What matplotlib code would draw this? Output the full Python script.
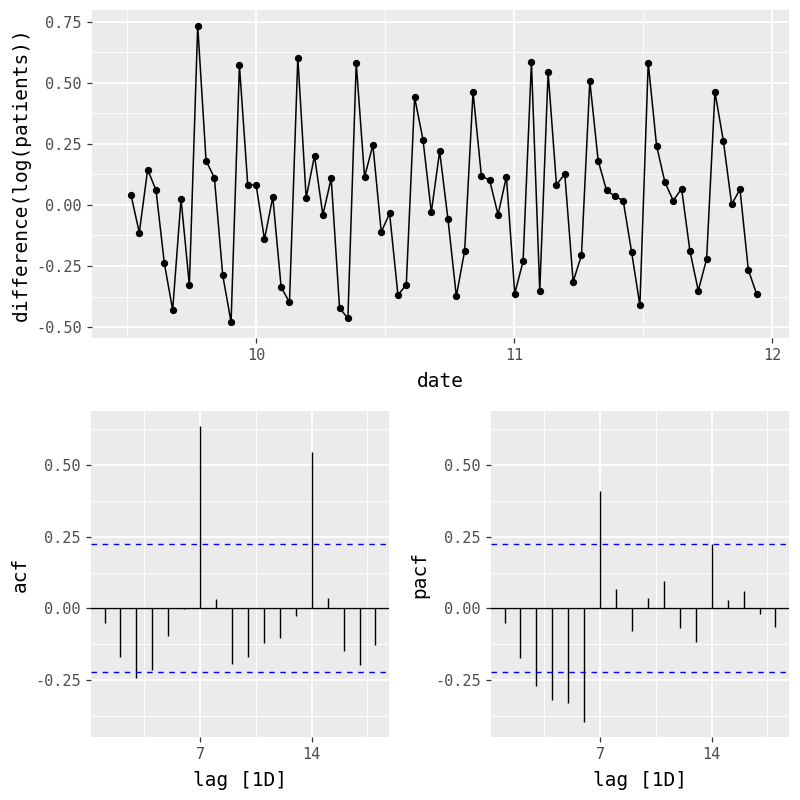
import numpy as np
import matplotlib
matplotlib.use("Agg")
import matplotlib.pyplot as plt
from matplotlib.ticker import FixedLocator

# differenced log series
diff_vals = [0.041, -0.113, 0.145, 0.061, -0.239, -0.430, 0.025, -0.329, 0.735, 0.182,
             0.111, -0.288, -0.480, 0.572, 0.082, 0.082, -0.141, 0.033, -0.337, -0.399,
             0.604, 0.029, 0.202, -0.041, 0.109, -0.421, -0.465, 0.581, 0.115, 0.246,
             -0.111, -0.034, -0.369, -0.327, 0.441, 0.268, -0.030, 0.220, -0.059, -0.374,
             -0.187, 0.463, 0.120, 0.101, -0.040, 0.116, -0.363, -0.231, 0.585, -0.352,
             0.544, 0.083, 0.127, -0.314, -0.206, 0.508, 0.182, 0.060, 0.036, 0.018,
             -0.191, -0.411, 0.583, 0.243, 0.093, 0.018, 0.067, -0.189, -0.351, -0.221,
             0.463, 0.264, 0.003, 0.064, -0.266, -0.366]
date_start, date_step = 9.516, 0.03233
dates = date_start + date_step * np.arange(len(diff_vals))

lags = list(range(1, 19))
acf_vals = [-0.052, -0.169, -0.241, -0.215, -0.096, -0.003, 0.635, 0.034, -0.194,
            -0.169, -0.121, -0.102, -0.026, 0.545, 0.038, -0.148, -0.196, -0.126]
pacf_vals = [-0.052, -0.173, -0.269, -0.320, -0.331, -0.396, 0.408, 0.066, -0.077,
             0.038, 0.094, -0.067, -0.117, 0.223, 0.028, 0.060, -0.021, -0.064]
ci = 0.223

FONT = "DejaVu Sans Mono"
plt.rcParams["font.family"] = FONT
BG = "#EBEBEB"
TICK_COL = "#4D4D4D"


def style(ax, xmaj, xmin, ymaj, ymin):
    ax.set_facecolor(BG)
    for s in ax.spines.values():
        s.set_visible(False)
    ax.xaxis.set_major_locator(FixedLocator(xmaj))
    ax.xaxis.set_minor_locator(FixedLocator(xmin))
    ax.yaxis.set_major_locator(FixedLocator(ymaj))
    ax.yaxis.set_minor_locator(FixedLocator(ymin))
    ax.grid(True, which="major", color="white", lw=1.3)
    ax.grid(True, which="minor", color="white", lw=0.6)
    ax.set_axisbelow(True)
    ax.tick_params(which="major", length=3.5, width=0.9, color="#333333",
                   labelcolor=TICK_COL, labelsize=11, pad=4)
    ax.tick_params(which="minor", length=0)


fig = plt.figure(figsize=(8, 8), dpi=100)

# top: time series
ax = fig.add_axes([92 / 800, 1 - 338 / 800, 697 / 800, 328 / 800])
ax.plot(dates, diff_vals, color="black", lw=1.1, zorder=3)
ax.scatter(dates, diff_vals, s=18, color="black", zorder=4)
ax.set_xlim(9.365, 12.066)
ax.set_ylim(-0.545, 0.799)
style(ax, [10, 11, 12], [9.5, 10.5, 11.5],
      [-0.5, -0.25, 0, 0.25, 0.5, 0.75], [-0.375, -0.125, 0.125, 0.375, 0.625])
ax.yaxis.set_major_formatter(plt.FuncFormatter(lambda v, p: f"{v:.2f}"))
ax.set_xlabel("date", fontsize=14, labelpad=6)
ax.set_ylabel("difference(log(patients))", fontsize=14, labelpad=4)

# bottom: acf / pacf
for left, vals, name in [(91, acf_vals, "acf"), (491, pacf_vals, "pacf")]:
    a = fig.add_axes([left / 800, 1 - 737 / 800, 298 / 800, 326 / 800])
    a.vlines(lags, 0, vals, color="black", lw=1.0, zorder=3)
    a.axhline(0, color="black", lw=1.0, zorder=3)
    a.axhline(ci, color="blue", lw=1.0, ls=(0, (4, 4)), zorder=3)
    a.axhline(-ci, color="blue", lw=1.0, ls=(0, (4, 4)), zorder=3)
    a.set_xlim(0.15, 18.85)
    a.set_ylim(-0.448, 0.688)
    style(a, [7, 14], [3.5, 10.5, 17.5],
          [-0.25, 0, 0.25, 0.5], [-0.375, -0.125, 0.125, 0.375, 0.625])
    a.yaxis.set_major_formatter(plt.FuncFormatter(lambda v, p: f"{v:.2f}"))
    a.set_xlabel("lag [1D]", fontsize=14, labelpad=6)
    a.set_ylabel(name, fontsize=14, labelpad=4)

fig.savefig("out.png", dpi=100)
